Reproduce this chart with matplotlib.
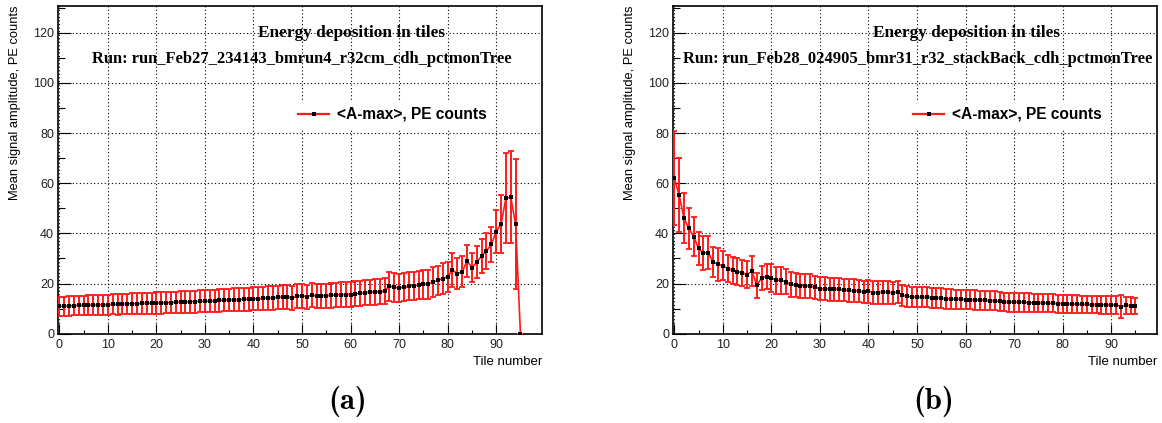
import matplotlib.pyplot as plt
from matplotlib.patches import Rectangle
from matplotlib.ticker import MultipleLocator

tiles = list(range(96))

# panel (a): run_Feb27
amax_a = [10.9, 11.0, 11.1, 11.2, 11.3, 11.3, 11.4, 11.4, 11.5, 11.5,
          11.6, 11.7, 11.7, 11.8, 11.9, 12.0, 12.0, 12.1, 12.1, 12.2,
          12.3, 12.3, 12.4, 12.4, 12.5, 12.6, 12.7, 12.8, 12.8, 12.9,
          12.9, 13.0, 13.0, 13.3, 13.4, 13.5, 13.6, 13.6, 13.7, 13.8,
          13.9, 14.0, 14.1, 14.2, 14.3, 14.5, 14.6, 14.7, 14.3, 15.0,
          15.2, 14.8, 15.4, 15.0, 15.1, 15.2, 15.3, 15.5, 15.6, 15.6,
          15.6, 15.9, 16.1, 16.4, 16.5, 16.7, 16.8, 17.0, 19.0, 18.5,
          18.4, 18.5, 18.9, 19.1, 19.4, 19.7, 19.8, 20.6, 21.3, 22.0,
          22.7, 25.3, 24.0, 24.7, 29.0, 26.3, 28.5, 31.0, 33.0, 35.6,
          40.7, 43.7, 54.0, 54.4, 43.7, 0.0]
err_a = [3.8, 3.8, 3.9, 3.9, 3.9, 3.9, 3.9, 4.0, 4.0, 4.0,
         4.0, 4.0, 4.1, 4.1, 4.1, 4.1, 4.2, 4.2, 4.2, 4.2,
         4.3, 4.3, 4.3, 4.3, 4.3, 4.4, 4.4, 4.4, 4.4, 4.4,
         4.4, 4.5, 4.5, 4.5, 4.5, 4.5, 4.5, 4.5, 4.6, 4.6,
         4.6, 4.6, 4.6, 4.7, 4.7, 4.7, 4.7, 4.7, 4.7, 4.8,
         4.8, 4.8, 4.8, 4.8, 4.8, 4.8, 4.9, 4.9, 4.9, 4.9,
         4.9, 5.0, 5.0, 5.0, 5.0, 5.1, 5.1, 5.2, 5.8, 5.7,
         5.6, 5.6, 5.6, 5.7, 5.7, 5.8, 5.8, 5.9, 5.9, 6.0,
         6.0, 6.8, 6.0, 6.2, 6.3, 5.8, 6.3, 6.7, 7.0, 7.1,
         8.7, 11.5, 18.0, 18.3, 25.8, 0.0]

# panel (b): run_Feb28
amax_b = [62.0, 55.3, 46.0, 42.0, 38.7, 34.0, 32.3, 32.3, 28.7, 27.7,
          27.1, 26.0, 25.3, 24.7, 24.3, 23.6, 25.0, 19.3, 22.3, 22.7,
          22.3, 21.3, 21.3, 20.7, 19.7, 19.3, 19.2, 19.1, 19.0, 18.5,
          18.0, 17.9, 17.8, 17.8, 17.7, 17.5, 17.3, 17.2, 17.0, 16.6,
          16.9, 16.4, 16.4, 16.5, 16.5, 16.4, 16.5, 15.3, 14.9, 14.7,
          14.6, 14.5, 14.5, 14.4, 14.3, 14.1, 13.9, 13.8, 13.7, 13.7,
          13.6, 13.6, 13.5, 13.3, 13.3, 13.2, 13.1, 12.9, 12.7, 12.5,
          12.6, 12.6, 12.5, 12.4, 12.3, 12.3, 12.2, 12.2, 12.1, 12.0,
          12.0, 11.9, 11.8, 11.8, 11.7, 11.7, 11.6, 11.6, 11.5, 11.5,
          11.4, 11.5, 10.8, 11.3, 11.2, 11.0]
err_b = [18.7, 14.7, 10.0, 8.3, 7.8, 6.7, 6.8, 6.5, 5.9, 6.5,
         5.7, 5.5, 5.3, 5.3, 5.2, 5.2, 5.8, 4.9, 4.9, 5.0,
         5.5, 5.4, 5.3, 5.0, 4.9, 4.8, 4.8, 4.8, 4.7, 4.7,
         4.6, 4.6, 4.6, 4.6, 4.6, 4.5, 4.5, 4.5, 4.5, 4.5,
         4.6, 4.5, 4.5, 4.5, 4.5, 4.4, 4.4, 4.3, 4.1, 4.0,
         4.0, 4.0, 4.0, 4.0, 4.0, 4.0, 3.9, 3.9, 3.9, 3.9,
         3.9, 3.9, 3.9, 3.8, 3.8, 3.8, 3.8, 3.8, 3.7, 3.7,
         3.8, 3.8, 3.8, 3.7, 3.7, 3.7, 3.7, 3.6, 3.6, 3.6,
         3.6, 3.6, 3.6, 3.6, 3.5, 3.5, 3.5, 3.5, 3.5, 3.5,
         3.5, 3.5, 4.7, 3.4, 3.4, 3.3]

title = 'Energy deposition in tiles'
run_names = ['Run: run_Feb27_234143_bmrun4_r32cm_cdh_pctmonTree',
             'Run: run_Feb28_024905_bmr31_r32_stackBack_cdh_pctmonTree']
tags = ['(a)', '(b)']
tag_x = [0.2995, 0.8035]
legend_label = '<A-max>, PE counts'
ylab = 'Mean signal amplitude, PE counts'
xlab = 'Tile number'

SANS = 'Liberation Sans'
SERIF = 'Liberation Serif'
RED = '#ff1a1a'

fig = plt.figure(figsize=(11.62, 4.23), dpi=100)
W, H = 1162.0, 423.0
ax_w, ax_h = 484.0, 327.7
lefts = [58.3, 673.3]
series = [(amax_a, err_a), (amax_b, err_b)]

for i in range(2):
    ax = fig.add_axes([lefts[i] / W, (H - 333.7) / H, ax_w / W, ax_h / H])
    vals, errs = series[i]
    ax.errorbar(tiles, vals, yerr=errs, fmt='-', color=RED, lw=1.2, elinewidth=1.4,
                capsize=1.9, capthick=1.3, zorder=3)
    ax.plot(tiles, vals, linestyle='none', marker='s', ms=2.8, mew=0,
            color='black', zorder=4)
    ax.set_xlim(-0.2, 99.5)
    ax.set_ylim(0, 130.7)
    ax.xaxis.set_major_locator(MultipleLocator(10))
    ax.xaxis.set_minor_locator(MultipleLocator(5))
    ax.yaxis.set_major_locator(MultipleLocator(20))
    ax.yaxis.set_minor_locator(MultipleLocator(10))
    ax.tick_params(axis='both', which='both', direction='in', top=False, right=False,
                   width=0.8, labelsize=9.0, colors='black', labelcolor='#222222')
    ax.tick_params(axis='x', which='major', length=7.5, pad=3.5)
    ax.tick_params(axis='x', which='minor', length=3.2)
    ax.tick_params(axis='y', which='major', length=9.6, pad=3.0)
    ax.tick_params(axis='y', which='minor', length=4.8)
    for lab in ax.get_xticklabels() + ax.get_yticklabels():
        lab.set_family(SANS)
    for sp in ax.spines.values():
        sp.set_linewidth(1.2)
    ax.set_axisbelow(True)
    ax.grid(True, which='major', color='black', linestyle=(0, (1, 2.2)), linewidth=0.8)

    ax.text(0.6068, 0.9167, title, transform=ax.transAxes, ha='center', va='center',
            family=SERIF, weight='bold', fontsize=12.4)
    ax.text(0.5041, 0.8383, run_names[i], transform=ax.transAxes, ha='center', va='center',
            family=SERIF, weight='bold', fontsize=11.9)

    # legend box
    ax.add_patch(Rectangle((0.479, 0.6216), 0.414, 0.0916, transform=ax.transAxes,
                           facecolor='white', edgecolor='none', zorder=1))
    ax.plot([0.4946, 0.5599], [0.6704, 0.6704], transform=ax.transAxes,
            color=RED, lw=1.6, zorder=4)
    ax.plot([0.5283], [0.6704], transform=ax.transAxes, marker='s', ms=2.8, mew=0,
            color='black', zorder=5)
    ax.text(0.5752, 0.6704, legend_label, transform=ax.transAxes, ha='left', va='center',
            family=SANS, weight='bold', fontsize=11.2, zorder=5)

    ax.text(-0.0899, 1.0, ylab, transform=ax.transAxes, rotation=90, ha='center',
            va='top', family=SANS, fontsize=9.3)
    ax.text(1.0, -0.0873, xlab, transform=ax.transAxes, ha='right', va='center',
            family=SANS, fontsize=9.5)

    fig.text(tag_x[i], 0.0504, tags[i], ha='center', va='center',
             family='cmb10', fontsize=22)

fig.savefig('out.png', dpi=100)
